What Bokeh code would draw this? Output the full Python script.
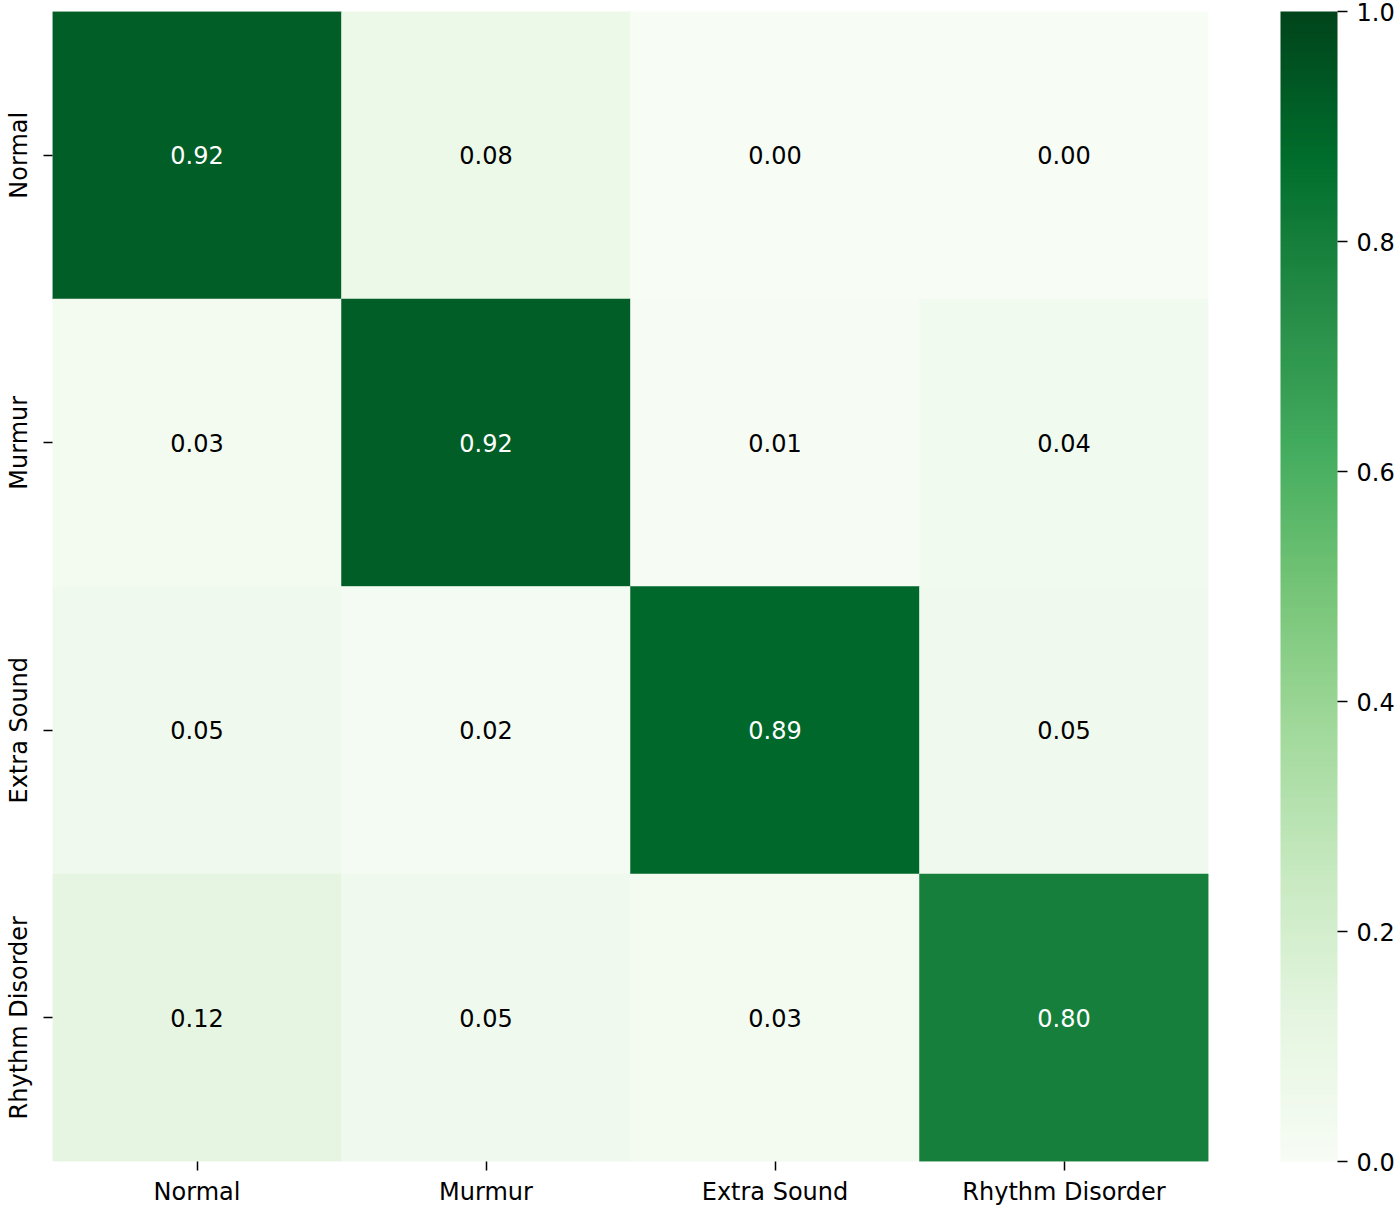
import math
from bokeh.plotting import figure
from bokeh.models import ColumnDataSource, LinearColorMapper, ColorBar, FixedTicker, PrintfTickFormatter
from bokeh.palettes import Greens256
from bokeh.transform import transform
from bokeh.core.properties import value
from bokeh.embed import file_html
from bokeh.resources import INLINE

classes = ["Normal", "Murmur", "Extra Sound", "Rhythm Disorder"]
row_normal = [0.92, 0.08, 0.00, 0.00]
row_murmur = [0.03, 0.92, 0.01, 0.04]
row_extra = [0.05, 0.02, 0.89, 0.05]
row_rhythm = [0.12, 0.05, 0.03, 0.80]
rows = [row_normal, row_murmur, row_extra, row_rhythm]
cbar_ticks = [0.0, 0.2, 0.4, 0.6, 0.8, 1.0]

xs, ys, vals, labels, tcolors = [], [], [], [], []
for true_c, r in zip(classes, rows):
    for pred_c, v in zip(classes, r):
        xs.append(pred_c)
        ys.append(true_c)
        vals.append(v)
        labels.append(f"{v:.2f}")
        tcolors.append("white" if v > 0.5 else "black")

src = ColumnDataSource(dict(x=xs, y=ys, v=vals, label=labels, tc=tcolors))

palette = list(Greens256)[::-1]
mapper = LinearColorMapper(palette=palette, low=0.0, high=1.0)

FONT = "DejaVu Sans"

p = figure(x_range=classes, y_range=classes[::-1], frame_width=1156, frame_height=1150,
           output_backend="svg", toolbar_location=None,
           min_border_left=52, min_border_top=11, min_border_bottom=46, min_border_right=0)
p.rect(x="x", y="y", width=1, height=1, source=src,
       fill_color=transform("v", mapper), line_color=transform("v", mapper), line_width=0.5)
p.text(x="x", y="y", text="label", source=src, text_color="tc",
       text_align="center", text_baseline="middle",
       text_font=value(FONT), text_font_size="24px")

p.grid.visible = False
p.outline_line_color = None
for ax in (p.xaxis, p.yaxis):
    ax.axis_line_color = None
    ax.major_tick_line_color = "black"
    ax.major_tick_line_width = 1.5
    ax.major_tick_out = 9
    ax.major_tick_in = 0
    ax.minor_tick_line_color = None
    ax.major_label_text_font = FONT
    ax.major_label_text_font_size = "24px"
    ax.major_label_text_color = "black"
p.xaxis.major_label_standoff = 7
p.yaxis.major_label_standoff = 11
p.yaxis.major_label_orientation = "vertical"

cb = ColorBar(color_mapper=mapper, width=57, height=1150,
              ticker=FixedTicker(ticks=cbar_ticks),
              formatter=PrintfTickFormatter(format="%.1f"),
              major_label_text_font=FONT, major_label_text_font_size="24px",
              major_label_text_color="black",
              major_tick_line_color="black", major_tick_line_width=1.5,
              major_tick_out=10, major_tick_in=0, minor_tick_line_color=None,
              label_standoff=9, bar_line_color=None, padding=0, margin=0,
              location=(72, 0), background_fill_color=None, border_line_color=None)
p.add_layout(cb, "right")

open("out.html", "w").write(file_html(p, INLINE))
